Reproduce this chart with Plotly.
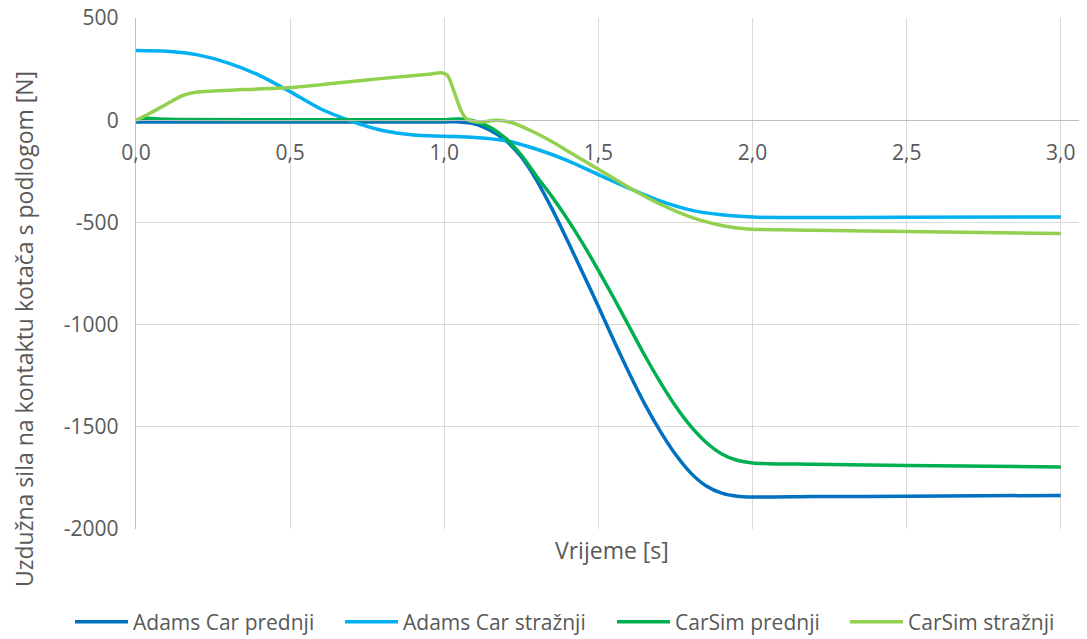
import plotly.graph_objects as go

# ---- data ----
t_adams_front = [0, 0.5, 1.0, 1.05, 1.1, 1.15, 1.2, 1.25, 1.3, 1.35, 1.4, 1.45, 1.5, 1.55, 1.6,
                 1.65, 1.7, 1.75, 1.8, 1.85, 1.9, 1.95, 2.0, 2.2, 2.5, 3.0]
v_adams_front = [-8, -8, -8, -8, -18, -50, -100, -180, -295, -435, -590, -750, -912, -1078, -1238,
                 -1388, -1520, -1635, -1727, -1790, -1825, -1840, -1844, -1842, -1840, -1836]

t_adams_rear = [0, 0.1, 0.2, 0.3, 0.4, 0.5, 0.6, 0.7, 0.8, 0.9, 1.0, 1.1, 1.2, 1.3, 1.4, 1.5,
                1.6, 1.7, 1.8, 1.9, 2.0, 2.1, 2.5, 3.0]
v_adams_rear = [342, 338, 320, 280, 220, 140, 55, -5, -50, -72, -78, -84, -100, -142, -197, -266,
                -333, -395, -440, -463, -474, -476, -475, -473]

t_carsim_front = [0, 0.03, 0.1, 0.5, 1.0, 1.05, 1.1, 1.15, 1.2, 1.25, 1.3, 1.35, 1.4, 1.45, 1.5,
                  1.55, 1.6, 1.65, 1.7, 1.75, 1.8, 1.85, 1.9, 1.95, 2.0, 2.2, 2.5, 3.0]
v_carsim_front = [0, 10, 5, 3, 3, 6, -5, -35, -90, -170, -275, -375, -485, -605, -735,
                  -870, -1010, -1150, -1280, -1398, -1498, -1577, -1633, -1664, -1677, -1684, -1690, -1697]

t_carsim_rear = [0, 0.05, 0.1, 0.15, 0.2, 0.25, 0.35, 0.5, 0.65, 0.8, 0.95, 0.99, 1.01, 1.025,
                 1.04, 1.055, 1.07, 1.09, 1.12, 1.17, 1.22, 1.28, 1.35, 1.4, 1.5, 1.6, 1.7, 1.8,
                 1.9, 1.95, 2.0, 2.2, 2.5, 3.0]
v_carsim_rear = [0, 38, 80, 120, 138, 143, 150, 160, 182, 205, 225, 232, 220, 170,
                 105, 45, 10, -5, -8, 0, -12, -50, -105, -150, -240, -330, -410, -474,
                 -515, -527, -533, -538, -545, -554]

series_names = ["Adams Car prednji", "Adams Car stražnji", "CarSim prednji", "CarSim stražnji"]
series_colors = ["#0070C0", "#00B0F0", "#00B050", "#92D050"]

x_tick_vals = [0, 0.5, 1.0, 1.5, 2.0, 2.5, 3.0]
x_tick_text = ["0,0", "0,5", "1,0", "1,5", "2,0", "2,5", "3,0"]
y_tick_vals = [500, 0, -500, -1000, -1500, -2000]
y_tick_text = ["500", "0", "-500", "-1000", "-1500", "-2000"]

x_title = "Vrijeme [s]"
y_title = "Uzdužna sila na kontaktu kotača s podlogom [N]"

# ---- figure ----
FONT = "Open Sans"
GREY = "#595959"
OFF = 8  # page body margin

fig = go.Figure()
all_t = [t_adams_front, t_adams_rear, t_carsim_front, t_carsim_rear]
all_v = [v_adams_front, v_adams_rear, v_carsim_front, v_carsim_rear]
legend_ids = ["legend", "legend2", "legend3", "legend4"]
for i in range(4):
    fig.add_trace(go.Scatter(
        x=all_t[i], y=all_v[i], mode="lines", name=series_names[i],
        line=dict(color=series_colors[i], width=3.5, shape="spline", smoothing=0.8),
        legend=legend_ids[i], showlegend=True,
    ))

W, H = 1087 - OFF, 639 - OFF
ml, mr, mt, mb = 128, 0, 10, 110
pw = W - ml - mr
ph = H - mt - mb

def px_x(sx):
    return (sx - OFF - ml) / pw

def px_y(sy):
    return (H - mb - (sy - OFF)) / ph

y_lo, y_hi = -2000.5, 500.5
zero_pos = (0 - y_lo) / (y_hi - y_lo)

legend_px = [70, 340, 612, 845]
legend_common = dict(orientation="h", xanchor="left", yanchor="middle", y=px_y(622),
                     font=dict(family=FONT, size=21, color=GREY), bgcolor="rgba(0,0,0,0)",
                     itemwidth=53, tracegroupgap=0)
layout_legends = {}
for i, lid in enumerate(legend_ids):
    layout_legends[lid] = dict(x=px_x(legend_px[i]), **legend_common)

fig.update_layout(
    width=W, height=H,
    margin=dict(l=ml, r=mr, t=mt, b=mb, autoexpand=False),
    paper_bgcolor="white", plot_bgcolor="white",
    font=dict(family=FONT, size=21, color=GREY),
    xaxis=dict(
        range=[0, 3.085], tickvals=x_tick_vals, ticktext=x_tick_text,
        showgrid=True, gridcolor="#D9D9D9", gridwidth=1.3,
        zeroline=False, showline=True, linecolor="#BFBFBF", linewidth=1.3,
        anchor="free", position=zero_pos, ticks="", ticklabelstandoff=13,
        ticklabeloverflow="allow", automargin=False,
        tickfont=dict(family=FONT, size=21, color=GREY),
    ),
    yaxis=dict(
        range=[y_lo, y_hi], tickvals=y_tick_vals, ticktext=y_tick_text,
        showgrid=True, gridcolor="#D9D9D9", gridwidth=1.3,
        zeroline=False, showline=True, linecolor="#BFBFBF", linewidth=1.3,
        ticks="", ticklabelstandoff=12, ticklabeloverflow="allow", automargin=False,
        tickfont=dict(family=FONT, size=21, color=GREY),
    ),
    annotations=[
        dict(text=x_title, xref="paper", yref="paper", x=0.5, y=px_y(550),
             xanchor="center", yanchor="middle", showarrow=False,
             font=dict(family=FONT, size=23, color=GREY)),
        dict(text=y_title, xref="paper", yref="paper", x=px_x(24), y=px_y(329),
             xanchor="center", yanchor="middle", showarrow=False, textangle=-90,
             font=dict(family=FONT, size=23, color=GREY)),
    ],
    **layout_legends,
)

fig.write_html("out.html")
